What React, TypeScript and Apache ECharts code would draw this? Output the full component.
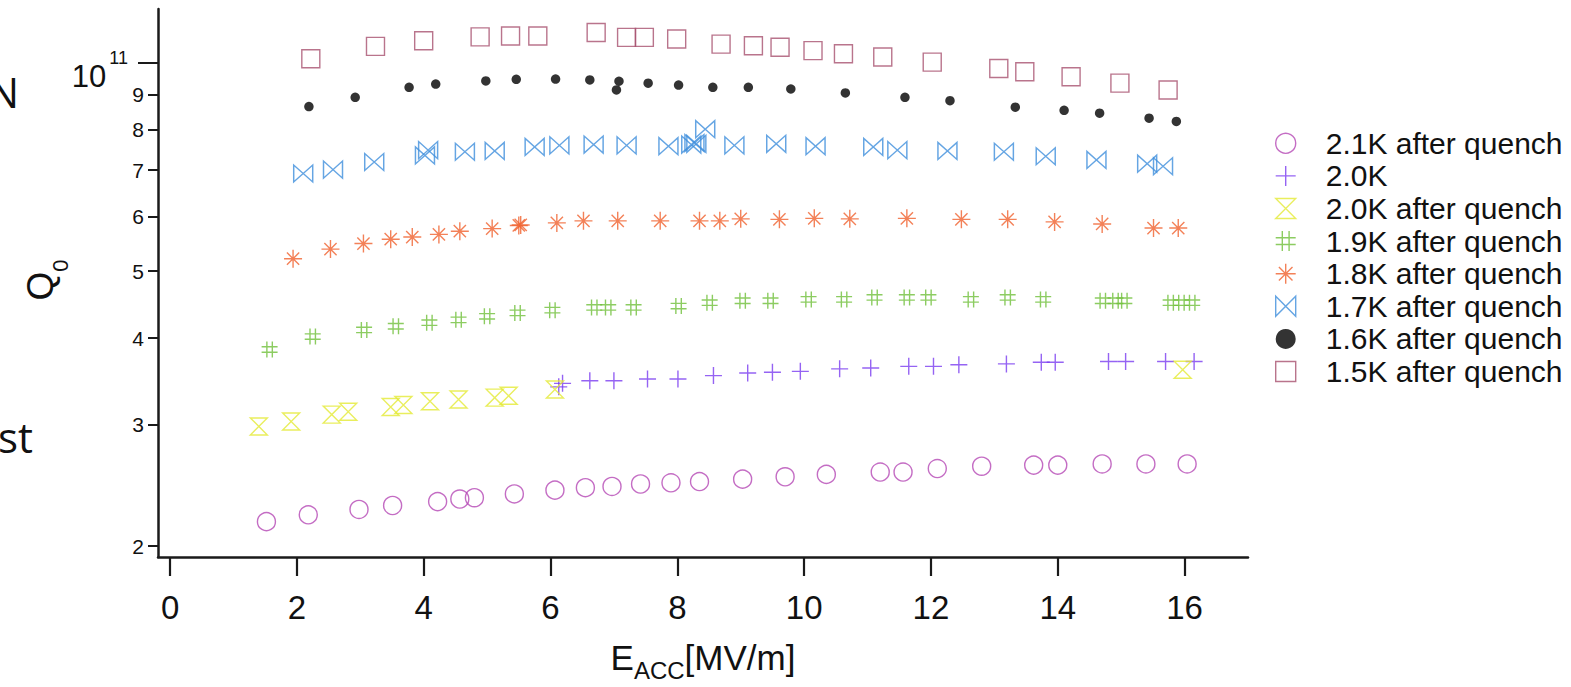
import React, { useEffect, useRef } from "react";
import * as echarts from "echarts";

const FONT = "'Liberation Sans', Arial, sans-serif";

// Axis ticks
const xTicks = [0, 2, 4, 6, 8, 10, 12, 14, 16];
const yMinorTicks = [2e10, 3e10, 4e10, 5e10, 6e10, 7e10, 8e10, 9e10];
const yMajorTicks = [1e11];

// Series (E_acc in MV/m, Q0 in units of 1e10)
const legendNames = [
  "2.1K after quench",
  "2.0K",
  "2.0K after quench",
  "1.9K after quench",
  "1.8K after quench",
  "1.7K after quench",
  "1.6K after quench",
  "1.5K after quench",
];

const e21 = [1.52, 2.18, 2.98, 3.51, 4.22, 4.57, 4.8, 5.43, 6.07, 6.55, 6.97, 7.42, 7.9, 8.35, 9.03, 9.7, 10.35, 11.2, 11.56, 12.1, 12.8, 13.62, 14.0, 14.7, 15.39, 16.04];
const q21 = [2.17, 2.22, 2.26, 2.29, 2.32, 2.34, 2.35, 2.38, 2.41, 2.43, 2.44, 2.46, 2.47, 2.48, 2.5, 2.52, 2.54, 2.56, 2.56, 2.59, 2.61, 2.62, 2.62, 2.63, 2.63, 2.63];

const e20 = [6.13, 6.19, 6.62, 7.0, 7.53, 8.01, 8.57, 9.11, 9.5, 9.94, 10.56, 11.05, 11.65, 12.04, 12.44, 13.19, 13.74, 13.96, 14.8, 15.07, 15.7, 16.15];
const q20 = [3.4, 3.44, 3.47, 3.47, 3.49, 3.49, 3.53, 3.56, 3.57, 3.58, 3.61, 3.62, 3.64, 3.64, 3.66, 3.67, 3.69, 3.69, 3.7, 3.7, 3.7, 3.7];

const e20q = [1.4, 1.91, 2.55, 2.81, 3.48, 3.68, 4.1, 4.55, 5.12, 5.34, 6.07, 15.97];
const q20q = [2.98, 3.03, 3.1, 3.13, 3.18, 3.2, 3.24, 3.26, 3.28, 3.3, 3.37, 3.6];

const e19 = [1.57, 2.25, 3.06, 3.56, 4.09, 4.55, 5.0, 5.48, 6.03, 6.69, 6.91, 7.31, 8.02, 8.51, 9.03, 9.47, 10.07, 10.63, 11.11, 11.62, 11.96, 12.63, 13.21, 13.77, 14.71, 14.91, 15.05, 15.78, 15.95, 16.12];
const q19 = [3.85, 4.02, 4.11, 4.16, 4.21, 4.25, 4.3, 4.35, 4.39, 4.43, 4.43, 4.43, 4.45, 4.5, 4.53, 4.53, 4.55, 4.55, 4.58, 4.58, 4.58, 4.55, 4.58, 4.55, 4.53, 4.53, 4.53, 4.5, 4.5, 4.5];

const e18 = [1.94, 2.53, 3.05, 3.48, 3.82, 4.24, 4.57, 5.08, 5.5, 5.53, 6.1, 6.52, 7.06, 7.73, 8.35, 8.67, 9.0, 9.61, 10.16, 10.72, 11.62, 12.48, 13.21, 13.95, 14.7, 15.51, 15.9];
const q18 = [5.21, 5.38, 5.48, 5.56, 5.6, 5.65, 5.71, 5.76, 5.82, 5.83, 5.87, 5.91, 5.91, 5.91, 5.91, 5.91, 5.95, 5.94, 5.96, 5.95, 5.96, 5.94, 5.94, 5.89, 5.85, 5.77, 5.77];

const e17 = [2.1, 2.57, 3.22, 4.02, 4.07, 4.65, 5.12, 5.75, 6.14, 6.68, 7.2, 7.86, 8.22, 8.27, 8.3, 8.44, 8.9, 9.56, 10.18, 11.09, 11.47, 12.26, 13.15, 13.81, 14.61, 15.41, 15.66];
const q17 = [6.92, 7.01, 7.19, 7.35, 7.48, 7.44, 7.46, 7.56, 7.6, 7.62, 7.6, 7.58, 7.62, 7.66, 7.64, 8.02, 7.6, 7.64, 7.58, 7.56, 7.48, 7.46, 7.44, 7.33, 7.24, 7.15, 7.09];

const e16 = [2.19, 2.92, 3.77, 4.19, 4.98, 5.46, 6.08, 6.62, 7.04, 7.08, 7.54, 8.02, 8.56, 9.12, 9.79, 10.65, 11.59, 12.3, 13.33, 14.1, 14.66, 15.44, 15.87];
const q16 = [8.65, 8.92, 9.22, 9.32, 9.42, 9.47, 9.48, 9.45, 9.14, 9.41, 9.35, 9.29, 9.22, 9.22, 9.17, 9.05, 8.92, 8.82, 8.63, 8.54, 8.46, 8.32, 8.23];

const e15 = [2.22, 3.24, 4.0, 4.89, 5.37, 5.8, 6.72, 7.2, 7.48, 7.99, 8.69, 9.2, 9.62, 10.14, 10.62, 11.24, 12.02, 13.07, 13.48, 14.21, 14.98, 15.74];
const q15 = [10.14, 10.57, 10.77, 10.91, 10.94, 10.94, 11.07, 10.89, 10.89, 10.83, 10.65, 10.59, 10.54, 10.42, 10.31, 10.2, 10.03, 9.82, 9.71, 9.55, 9.35, 9.14];

const SYM = {
  plus: "path://M0,5L10,5M5,0L5,10",
  hourglass: "path://M0,0L10,0L0,10L10,10Z",
  hash: "path://M3.3,0L3.3,10M6.7,0L6.7,10M0,3.3L10,3.3M0,6.7L10,6.7",
  star: "path://M0,5L10,5M5,0L5,10M1.6,1.6L8.4,8.4M8.4,1.6L1.6,8.4M4.6,4.6L5.4,4.6L5.4,5.4L4.6,5.4Z",
  bowtie: "path://M0,0L0,10L10,0L10,10Z",
  square: "path://M0,0L10,0L10,10L0,10Z",
};

const COLORS = ["#b548b5", "#7b3cf0", "#e4ea34", "#6fbf3a", "#f0622e", "#3f8fdc", "#000000", "#a8516f"];

function makeSeries(idx: number, E: number[], Q: number[], symbol: string, size: number | number[], filled = false) {
  const color = COLORS[idx];
  return {
    name: legendNames[idx],
    type: "scatter",
    xAxisIndex: 0,
    yAxisIndex: 0,
    data: E.map((e, i) => [e, Q[i] * 1e10]),
    symbol,
    symbolSize: size,
    itemStyle: filled
      ? { color, borderWidth: 0 }
      : { color: "transparent", borderColor: color, borderWidth: 1.4 },
    emphasis: { disabled: true },
    silent: true,
  };
}

export default function App() {
  const ref = useRef<HTMLDivElement>(null);
  useEffect(() => {
    const chart = echarts.init(ref.current!, null, { renderer: "svg" });
    const yMin = 1.929e10;
    const yMax = 1.197e11;
    const lgMin = Math.log10(yMin);
    const lgMax = Math.log10(yMax);
    const axisColor = "#1a1a1a";
    const option: any = {
      animation: false,
      backgroundColor: "#ffffff",
      grid: { left: 158, top: 9, right: 323, bottom: 119, containLabel: false },
      legend: {
        orient: "vertical",
        left: 1275,
        top: 127,
        padding: 0,
        itemGap: 0,
        itemWidth: 20,
        itemHeight: 20,
        data: legendNames,
        selectedMode: false,
        itemStyle: { borderWidth: 1.4 },
        textStyle: {
          fontSize: 30,
          lineHeight: 32.6,
          fontFamily: FONT,
          color: "#111",
          padding: [0, 0, 0, 25],
        },
      },
      xAxis: {
        type: "value",
        min: -0.19,
        max: 17.0,
        axisLine: { show: true, onZero: false, lineStyle: { color: axisColor, width: 2.5 } },
        axisTick: { show: true, customValues: xTicks, length: 19, lineStyle: { color: axisColor, width: 2.2 } },
        axisLabel: { customValues: xTicks, fontSize: 33, margin: 34, color: "#111", fontFamily: FONT },
        splitLine: { show: false },
        name: "{e|E}{s|ACC}{e|[MV/m]}",
        nameLocation: "middle",
        nameGap: 83,
        nameTextStyle: {
          rich: {
            e: { fontSize: 35, lineHeight: 35, verticalAlign: "top", fontFamily: FONT, color: "#111" },
            s: { fontSize: 24, lineHeight: 24, verticalAlign: "top", padding: [18, 0, 0, 0], fontFamily: FONT, color: "#111" },
          },
        },
      },
      yAxis: [
        {
          type: "log",
          logBase: 10,
          min: yMin,
          max: yMax,
          position: "left",
          axisLine: { show: true, onZero: false, lineStyle: { color: axisColor, width: 2.5 } },
          axisTick: { show: false },
          axisLabel: { show: false },
          splitLine: { show: false },
          minorTick: { show: false },
          name: "{q|Q}{z|0}",
          nameLocation: "middle",
          nameRotate: 90,
          nameGap: 99,
          nameTextStyle: {
            rich: {
              q: { fontSize: 37, lineHeight: 37, verticalAlign: "top", padding: [0, 0, 0, 6], fontFamily: FONT, color: "#111" },
              z: { fontSize: 22, lineHeight: 22, verticalAlign: "top", padding: [27, 0, 0, 0], fontFamily: FONT, color: "#111" },
            },
          },
        },
        {
          type: "value",
          min: lgMin,
          max: lgMax,
          position: "left",
          offset: 0,
          axisLine: { show: false, onZero: false },
          axisTick: { show: true, customValues: yMinorTicks.map((v) => Math.log10(v)), length: 10, lineStyle: { color: axisColor, width: 2 } },
          axisLabel: {
            customValues: yMinorTicks.map((v) => Math.log10(v)),
            formatter: (v: number) => String(Math.round(Math.pow(10, v) / 1e10)),
            fontSize: 21,
            margin: 14,
            color: "#111",
            fontFamily: FONT,
          },
          splitLine: { show: false },
        },
        {
          type: "value",
          min: lgMin,
          max: lgMax,
          position: "left",
          offset: 0,
          axisLine: { show: false, onZero: false },
          axisTick: { show: true, customValues: yMajorTicks.map((v) => Math.log10(v)), length: 20, lineStyle: { color: axisColor, width: 2 } },
          axisLabel: {
            customValues: yMajorTicks.map((v) => Math.log10(v)),
            formatter: (v: number) => "{b|10}{s|" + Math.round(v) + "}",
            margin: 30,
            rich: {
              b: { fontSize: 31, lineHeight: 31, verticalAlign: "top", padding: [14, 0, 12, 0], fontFamily: FONT, color: "#111" },
              s: { fontSize: 18, lineHeight: 18, verticalAlign: "top", padding: [2, 0, 0, 3], fontFamily: FONT, color: "#111" },
            },
          },
          splitLine: { show: false },
        },
      ],
      graphic: [
        { type: "text", x: 19, y: 91, style: { text: "N", font: "42px 'Open Sans'", fill: "#111", align: "right", verticalAlign: "middle" } },
        { type: "text", x: -2, y: 436, style: { text: "st", font: "42px 'Open Sans'", fill: "#111", align: "left", verticalAlign: "middle" } },
      ],
      series: [
        makeSeries(0, e21, q21, "circle", 18),
        makeSeries(1, e20, q20, SYM.plus, 17),
        makeSeries(2, e20q, q20q, SYM.hourglass, [17, 17]),
        makeSeries(3, e19, q19, SYM.hash, 16),
        makeSeries(4, e18, q18, SYM.star, 18),
        makeSeries(5, e17, q17, SYM.bowtie, [19, 17]),
        makeSeries(6, e16, q16, "circle", 9.5, true),
        makeSeries(7, e15, q15, SYM.square, 18),
      ],
    };
    chart.setOption(option);
    return () => chart.dispose();
  }, []);
  return (
    <div
      ref={ref}
      style={{ position: "fixed", left: 0, top: 0, width: 1571, height: 687, background: "#fff" }}
    />
  );
}
